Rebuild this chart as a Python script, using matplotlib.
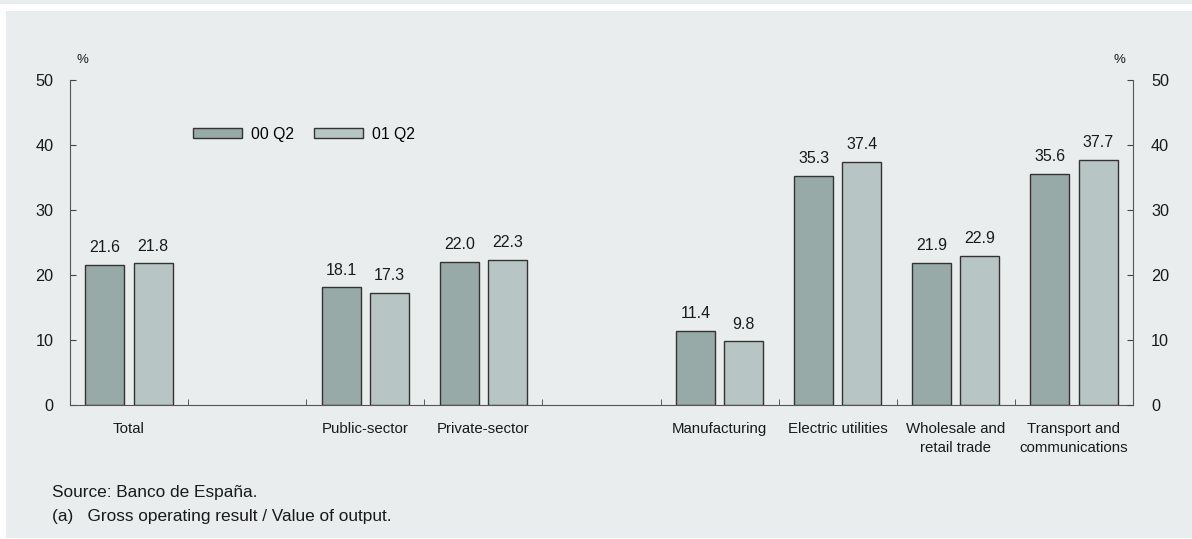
import numpy as np
import matplotlib.pyplot as plt
from matplotlib.patches import Rectangle

plt.rcParams['font.family'] = ['Liberation Sans', 'DejaVu Sans']

# data
categories = ['Total', '', 'Public-sector', 'Private-sector', '',
              'Manufacturing', 'Electric utilities',
              'Wholesale and\nretail trade', 'Transport and\ncommunications']
q2_00 = [21.6, np.nan, 18.1, 22.0, np.nan, 11.4, 35.3, 21.9, 35.6]
q2_01 = [21.8, np.nan, 17.3, 22.3, np.nan, 9.8, 37.4, 22.9, 37.7]
series_names = ['00 Q2', '01 Q2']

bg = '#E9EDEE'
dark = '#98AAA8'
light = '#B7C5C4'
edge = '#333333'
txt = '#1a1a1a'

fig = plt.figure(figsize=(11.92, 5.39), dpi=100)
W, H = 1192, 539
# background panels
fig.patches.append(Rectangle((0, 1 - 4 / H), 1, 4 / H, transform=fig.transFigure,
                             facecolor=bg, edgecolor='none', zorder=-10))
fig.patches.append(Rectangle((6 / W, 1 / H), 1 - 6 / W, 1 - 12 / H, transform=fig.transFigure,
                             facecolor=bg, edgecolor='none', zorder=-10))

ax = fig.add_axes([70 / W, 1 - 405 / H, (1133 - 70) / W, (405 - 80) / H])
ax.set_facecolor('none')

x = np.arange(len(categories))
w = 0.33
off = 0.204
b1 = ax.bar(x - off, q2_00, w, color=dark, edgecolor=edge, linewidth=1, label=series_names[0])
b2 = ax.bar(x + off, q2_01, w, color=light, edgecolor=edge, linewidth=1, label=series_names[1])

for bars, vals in ((b1, q2_00), (b2, q2_01)):
    for rect, v in zip(bars, vals):
        if np.isnan(v):
            continue
        ax.text(rect.get_x() + rect.get_width() / 2, v + 1.5, f'{v:.1f}',
                ha='center', va='bottom', fontsize=11.5, color=txt)

ax.set_xlim(-0.5, len(categories) - 0.5)
ax.set_ylim(0, 50)
ax.set_yticks(range(0, 51, 10))
ax.set_xticks(x)
ax.set_xticklabels(categories, fontsize=10.8, color=txt, linespacing=1.5)
ax.set_xticks(np.arange(0.5, len(categories) - 0.5, 1), minor=True)
ax.tick_params(axis='x', which='major', length=0, pad=12)
ax.tick_params(axis='x', which='minor', direction='in', length=4, color='#444444')
ax.tick_params(axis='y', direction='in', length=4, labelsize=11.7, pad=12,
               color='#444444', labelcolor=txt)
for s in ('top', 'right'):
    ax.spines[s].set_visible(False)
for s in ('left', 'bottom'):
    ax.spines[s].set_color('#555555')

ax2 = ax.twinx()
ax2.set_ylim(0, 50)
ax2.set_yticks(range(0, 51, 10))
ax2.tick_params(axis='y', direction='in', length=4, labelsize=11.7, pad=13,
                color='#444444', labelcolor=txt)
for s in ('top', 'left', 'bottom'):
    ax2.spines[s].set_visible(False)
ax2.spines['right'].set_color('#555555')

fig.text(82.5 / W, 1 - 60 / H, '%', fontsize=9.5, ha='center', va='center', color=txt)
fig.text(1119 / W, 1 - 60 / H, '%', fontsize=9.5, ha='center', va='center', color=txt)

ax.legend(loc='center left', bbox_to_anchor=(193 / W, 1 - 134 / H),
          bbox_transform=fig.transFigure, ncol=2, frameon=False, fontsize=11.3,
          handlelength=3.12, handleheight=0.64, handletextpad=0.57,
          columnspacing=1.27, borderpad=0, borderaxespad=0)

fig.text(52 / W, 1 - 492 / H, 'Source: Banco de España.', fontsize=12.4,
         ha='left', va='center', color=txt)
fig.text(52 / W, 1 - 517 / H, '(a)   Gross operating result / Value of output.', fontsize=12.4,
         ha='left', va='center', color=txt)

fig.savefig('out.png', dpi=100, facecolor='white')
